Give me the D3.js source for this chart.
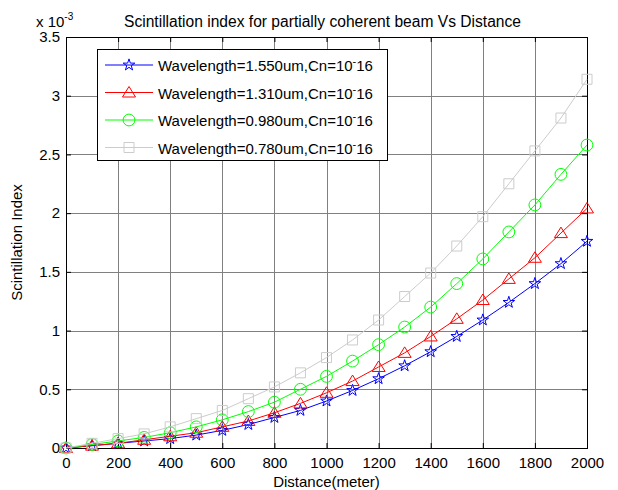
<!DOCTYPE html>
<html>
<head>
<meta charset="utf-8">
<script src="https://cdn.jsdelivr.net/npm/d3@7"></script>
<style>
  body { margin: 0; background: #fff; }
  text { font-family: Arial, 'Liberation Sans', sans-serif; }
</style>
</head>
<body>
<div id="chart"></div>
<script>
// distance in meters, values are scintillation index in units of 1e-3
const distance = [0, 100, 200, 300, 400, 500, 600, 700, 800, 900, 1000,
  1100, 1200, 1300, 1400, 1500, 1600, 1700, 1800, 1900, 2000]

const si1550 = [0, 0.02, 0.04, 0.06, 0.08, 0.11, 0.15, 0.20, 0.26, 0.32, 0.40,
  0.49, 0.59, 0.70, 0.82, 0.95, 1.09, 1.24, 1.40, 1.57, 1.76]
const si1310 = [0, 0.02, 0.04, 0.07, 0.10, 0.13, 0.18, 0.23, 0.30, 0.38, 0.47,
  0.57, 0.69, 0.81, 0.95, 1.10, 1.26, 1.44, 1.62, 1.83, 2.04]
const si980 = [0, 0.03, 0.06, 0.09, 0.13, 0.18, 0.24, 0.31, 0.39, 0.50, 0.61,
  0.74, 0.88, 1.03, 1.20, 1.40, 1.61, 1.84, 2.07, 2.33, 2.58]
const si780 = [0, 0.04, 0.08, 0.12, 0.18, 0.25, 0.32, 0.42, 0.52, 0.64, 0.77,
  0.92, 1.09, 1.29, 1.49, 1.72, 1.97, 2.25, 2.53, 2.81, 3.14]

const seriesNames = ['1.550', '1.310', '0.980', '0.780']
const seriesColors = ['#0000ff', '#ff0000', '#00ff00', '#cccccc']
const seriesMarkers = ['star', 'triangle', 'circle', 'square']
const seriesValues = [si1550, si1310, si980, si780]

const xTicks = [0, 200, 400, 600, 800, 1000, 1200, 1400, 1600, 1800, 2000]
const yTicks = [0, 0.5, 1, 1.5, 2, 2.5, 3, 3.5]

const margin = { top: 37, left: 66, right: 31, bottom: 42 }
const width = 618 - margin.left - margin.right
const height = 490 - margin.top - margin.bottom
const fs = 15

const svg = d3
  .select('#chart')
  .append('svg')
  .attr('width', 618)
  .attr('height', 490)
  .append('g')
  .attr('transform', 'translate(' + margin.left + ',' + margin.top + ')')

const xScale = d3.scaleLinear().domain([0, 2000]).range([0, width])
const yScale = d3.scaleLinear().domain([0, 3.5]).range([height, 0])

// grid
svg
  .selectAll('.xgrid')
  .data(xTicks.slice(1, -1))
  .enter()
  .append('line')
  .attr('x1', d => Math.round(xScale(d)) + 0.5)
  .attr('x2', d => Math.round(xScale(d)) + 0.5)
  .attr('y1', 0)
  .attr('y2', height)
  .attr('stroke', '#808080')
  .attr('stroke-width', 1)

svg
  .selectAll('.ygrid')
  .data(yTicks.slice(1, -1))
  .enter()
  .append('line')
  .attr('y1', d => Math.round(yScale(d)) + 0.5)
  .attr('y2', d => Math.round(yScale(d)) + 0.5)
  .attr('x1', 0)
  .attr('x2', width)
  .attr('stroke', '#808080')
  .attr('stroke-width', 1)

// axes, ticks point inward like matlab
svg
  .append('g')
  .attr('transform', 'translate(0,' + height + ')')
  .call(d3.axisBottom(xScale).tickValues(xTicks).tickFormat(d3.format('')).tickSizeInner(-5).tickSizeOuter(0).tickPadding(9))
svg
  .append('g')
  .call(d3.axisLeft(yScale).tickValues(yTicks).tickFormat(d3.format('')).tickSizeInner(-5).tickSizeOuter(0).tickPadding(6))
svg
  .append('g')
  .call(d3.axisTop(xScale).tickValues(xTicks).tickSizeInner(-5).tickSizeOuter(0).tickFormat(''))
svg
  .append('g')
  .attr('transform', 'translate(' + width + ',0)')
  .call(d3.axisRight(yScale).tickValues(yTicks).tickSizeInner(-5).tickSizeOuter(0).tickFormat(''))

svg.selectAll('.domain').remove()
svg.selectAll('.tick line').attr('stroke', '#000')
svg.selectAll('.tick text').attr('font-size', fs).attr('fill', '#000')
  .attr('font-family', 'Arial, Liberation Sans, sans-serif')

svg
  .append('rect')
  .attr('x', 0.5)
  .attr('y', 0.5)
  .attr('width', width)
  .attr('height', height)
  .attr('fill', 'none')
  .attr('stroke', '#000')
  .attr('stroke-width', 1)

// lines + markers
const line = d3
  .line()
  .x((d, i) => xScale(distance[i]))
  .y(d => yScale(d))

function markerPath(type) {
  if (type === 'star') return d3.symbol().type(d3.symbolStar).size(42)()
  if (type === 'triangle') return 'M0,-6L6.5,4.5L-6.5,4.5Z'
  if (type === 'circle') return d3.symbol().type(d3.symbolCircle).size(110)()
  return 'M-5,-5H5V5H-5Z'
}

seriesValues.forEach((vals, k) => {
  const g = svg.append('g')
  g.append('path')
    .datum(vals)
    .attr('d', line)
    .attr('fill', 'none')
    .attr('stroke', seriesColors[k])
    .attr('stroke-width', 1)
  g.selectAll('.mk')
    .data(vals)
    .enter()
    .append('path')
    .attr('d', markerPath(seriesMarkers[k]))
    .attr('transform', (d, i) => `translate(${xScale(distance[i])},${yScale(d)})`)
    .attr('fill', 'none')
    .attr('stroke', seriesColors[k])
    .attr('stroke-width', 1)
})

// legend
const legend = svg.append('g').attr('transform', 'translate(31,12)')
legend
  .append('rect')
  .attr('x', 0.5)
  .attr('y', 0.5)
  .attr('width', 290)
  .attr('height', 111)
  .attr('fill', '#fff')
  .attr('stroke', '#000')

seriesNames.forEach((name, k) => {
  const y = 16 + k * 27.5
  legend.append('line')
    .attr('x1', 8).attr('x2', 56)
    .attr('y1', y).attr('y2', y)
    .attr('stroke', seriesColors[k])
  legend.append('path')
    .attr('d', markerPath(seriesMarkers[k]))
    .attr('transform', `translate(32,${y})`)
    .attr('fill', 'none')
    .attr('stroke', seriesColors[k])
  const t = legend.append('text')
    .attr('x', 61)
    .attr('y', y + 6)
    .attr('font-size', fs)
    .text('Wavelength=' + name + 'um,Cn=10')
  t.append('tspan').attr('dy', -6).attr('font-size', 11).text('-')
  t.append('tspan').attr('dy', 6).text('16')
})

// titles
svg
  .append('text')
  .attr('x', width / 2 - 4)
  .attr('y', -10)
  .attr('text-anchor', 'middle')
  .attr('font-size', 15.6)
  .text('Scintillation index for partially coherent beam Vs Distance')

const expo = svg
  .append('text')
  .attr('x', -30)
  .attr('y', -10)
  .attr('font-size', fs)
  .text('x 10')
expo.append('tspan').attr('dy', -7).attr('font-size', 10).text('-3')

svg
  .append('text')
  .attr('x', width / 2)
  .attr('y', height + 39)
  .attr('text-anchor', 'middle')
  .attr('font-size', fs)
  .text('Distance(meter)')

svg
  .append('text')
  .attr('transform', `translate(-44,${height / 2}) rotate(-90)`)
  .attr('text-anchor', 'middle')
  .attr('font-size', fs)
  .text('Scintillation Index')
</script>
</body>
</html>
